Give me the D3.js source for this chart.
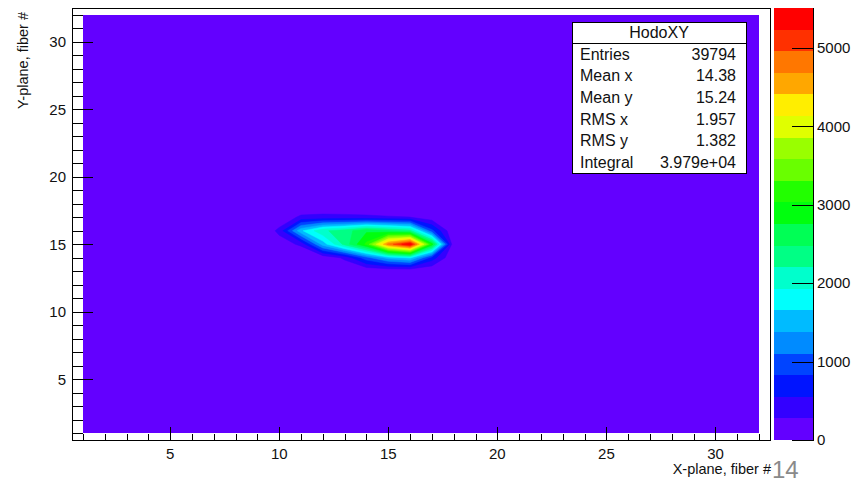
<!DOCTYPE html>
<html><head><meta charset="utf-8">
<script src="https://cdn.jsdelivr.net/npm/d3@7"></script>
<style>body{margin:0;background:#fff;} svg{display:block;font-family:"Liberation Sans",Arial,Helvetica,sans-serif;}</style>
</head><body><svg id="c" width="854" height="479"></svg>
<script>
// ---------- data ----------
const nBins = 32;
const axisRange = [0.5, 32.5];
const blobX = [9, 10, 11, 12, 13, 14, 15, 16, 17, 18];
const blobY = [13, 14, 15, 16, 17];
const blobCounts = [
  [0,   0,    0,    0,    0,    0,    0,    0,    0,   0], // y=13
  [0,   0,    0,   50,  330, 1000, 1500, 1700,  700,   0], // y=14
  [0, 150,  320, 1500, 2300, 3100, 4800, 5510, 2900,   0], // y=15
  [0, 340, 1600, 2150, 2350, 2700, 2500, 2300,  900,   0], // y=16
  [0,  80,  330,  360,  350,  330,  300,  280,  100,   0]  // y=17
];
const zMax = 5510;
const nLevels = 20;
const xTicks = [5, 10, 15, 20, 25, 30];
const yTicks = [5, 10, 15, 20, 25, 30];
const zTicks = [0, 1000, 2000, 3000, 4000, 5000];
const statsTitle = "HodoXY";
const statsLabels = ["Entries", "Mean x", "Mean y", "RMS x", "RMS y", "Integral"];
const statsValues = ["39794", "14.38", "15.24", "1.957", "1.382", "3.979e+04"];
const xTitle = "X-plane, fiber #";
const yTitle = "Y-plane, fiber #";
const pageNumber = "14";

// ---------- layout ----------
const frame = {x0: 72, x1: 770, y0: 8, y1: 440};
const bar = {x0: 774, x1: 813};
const svg = d3.select("#c");
const xS = d3.scaleLinear().domain(axisRange).range([frame.x0, frame.x1]);
const yS = d3.scaleLinear().domain(axisRange).range([frame.y1, frame.y0]);
const zS = d3.scaleLinear().domain([0, zMax]).range([frame.y1, frame.y0]);

const levels = d3.range(nLevels).map(k => k * zMax / nLevels);
function levelColor(k) {
  const idx = Math.floor((k + 0.99) * 50 / nLevels);
  const hue = 280 - (idx + 1) * 5.6;
  return d3.hsl(hue, 1, 0.5).formatHex();
}

// grid
const grid = new Array(nBins * nBins).fill(0);
blobY.forEach((yv, j) => blobX.forEach((xv, i) => {
  grid[(yv - 1) * nBins + (xv - 1)] = blobCounts[j][i];
}));

// background (lowest level) between first and last bin centres
svg.append("rect")
  .attr("x", xS(1)).attr("y", yS(nBins))
  .attr("width", xS(nBins) - xS(1)).attr("height", yS(1) - yS(nBins))
  .attr("fill", levelColor(0)).attr("shape-rendering", "crispEdges");

const proj = d3.geoTransform({point(x, y) { this.stream.point(xS(x + 0.5), yS(y + 0.5)); }});
const path = d3.geoPath(proj);
const contours = d3.contours().size([nBins, nBins]).thresholds(levels.slice(1))(grid);
svg.append("g").selectAll("path").data(contours).join("path")
  .attr("d", path)
  .attr("fill", (d, i) => levelColor(i + 1))
  .attr("stroke", (d, i) => levelColor(i + 1)).attr("stroke-width", 0.5);

// frame
svg.append("rect").attr("x", frame.x0 + 0.5).attr("y", frame.y0 + 0.5)
  .attr("width", frame.x1 - frame.x0).attr("height", frame.y1 - frame.y0)
  .attr("fill", "none").attr("stroke", "#000").attr("stroke-width", 1)
  .attr("shape-rendering", "crispEdges");

// ticks
const tg = svg.append("g").attr("stroke", "#000").attr("stroke-width", 1).attr("shape-rendering", "crispEdges");
d3.range(1, nBins + 1).forEach(v => {
  const major = xTicks.includes(v);
  tg.append("line").attr("x1", Math.round(xS(v)) + 0.5).attr("x2", Math.round(xS(v)) + 0.5)
    .attr("y1", frame.y1).attr("y2", frame.y1 - (major ? 13 : 6.5));
  const majorY = yTicks.includes(v);
  tg.append("line").attr("y1", Math.round(yS(v)) + 0.5).attr("y2", Math.round(yS(v)) + 0.5)
    .attr("x1", frame.x0).attr("x2", frame.x0 + (majorY ? 21 : 10.5));
});

const lab = svg.append("g").attr("fill", "#111").attr("font-size", 15);
xTicks.forEach(v => lab.append("text").attr("x", xS(v)).attr("y", 459)
  .attr("text-anchor", "middle").text(v));
yTicks.forEach(v => lab.append("text").attr("x", 66).attr("y", yS(v)).attr("dy", "0.35em")
  .attr("text-anchor", "end").text(v));

// axis titles
svg.append("text").attr("x", frame.x1 + 1).attr("y", 474).attr("text-anchor", "end")
  .attr("font-size", 14.5).attr("fill", "#111").text(xTitle);
svg.append("text").attr("transform", `translate(28,${frame.y0 + 4}) rotate(-90)`)
  .attr("text-anchor", "end").attr("font-size", 14.5).attr("fill", "#111").text(yTitle);

// colour bar
const bg = svg.append("g").attr("shape-rendering", "crispEdges");
levels.forEach((lv, k) => {
  bg.append("rect").attr("x", bar.x0).attr("width", bar.x1 - bar.x0)
    .attr("y", zS(lv + zMax / nLevels)).attr("height", zS(lv) - zS(lv + zMax / nLevels))
    .attr("fill", levelColor(k));
});
bg.append("line").attr("x1", bar.x1 + 0.5).attr("x2", bar.x1 + 0.5)
  .attr("y1", frame.y0).attr("y2", frame.y1 + 1).attr("stroke", "#000");
zTicks.forEach(v => {
  bg.append("line").attr("x1", bar.x1 - 21).attr("x2", bar.x1)
    .attr("y1", Math.round(zS(v)) + 0.5).attr("y2", Math.round(zS(v)) + 0.5).attr("stroke", "#000");
  lab.append("text").attr("x", bar.x1 + 4).attr("y", zS(v)).attr("dy", "0.35em").text(v);
});

// stats box
const sb = {x0: 572, x1: 746, y0: 22, y1: 173, sep: 43.3};
const sg = svg.append("g");
sg.append("rect").attr("x", sb.x0 + 0.5).attr("y", sb.y0 + 0.5)
  .attr("width", sb.x1 - sb.x0).attr("height", sb.y1 - sb.y0)
  .attr("fill", "#fff").attr("stroke", "#000").attr("shape-rendering", "crispEdges");
sg.append("line").attr("x1", sb.x0).attr("x2", sb.x1).attr("y1", sb.sep + 0.5).attr("y2", sb.sep + 0.5)
  .attr("stroke", "#000").attr("shape-rendering", "crispEdges");
sg.append("text").attr("x", (sb.x0 + sb.x1) / 2).attr("y", (sb.y0 + sb.sep) / 2).attr("dy", "0.36em")
  .attr("text-anchor", "middle").attr("font-size", 16).attr("fill", "#111").text(statsTitle);
const rowH = (sb.y1 - sb.sep) / statsLabels.length;
statsLabels.forEach((l, i) => {
  const cy = sb.sep + rowH * (i + 0.5);
  sg.append("text").attr("x", 580).attr("y", cy).attr("dy", "0.36em")
    .attr("font-size", 16).attr("fill", "#111").text(l);
  sg.append("text").attr("x", 736).attr("y", cy).attr("dy", "0.36em").attr("text-anchor", "end")
    .attr("font-size", 16).attr("fill", "#111").text(statsValues[i]);
});

// page number
svg.append("text").attr("x", 772).attr("y", 478).attr("font-size", 24).attr("fill", "#8a8a8a").text(pageNumber);
</script></body></html>
